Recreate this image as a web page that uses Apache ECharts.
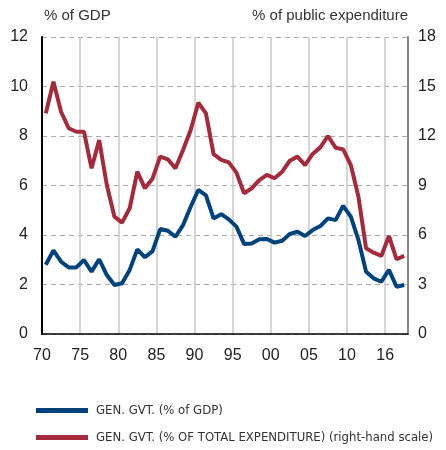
<!DOCTYPE html>
<html lang="en">
<head>
<meta charset="utf-8">
<title>General government</title>
<script src="https://cdn.jsdelivr.net/npm/echarts@6/dist/echarts.min.js"></script>
<style>
  html, body { margin: 0; padding: 0; background: #fff; }
  #chart { width: 446px; height: 450px; }
</style>
</head>
<body>
<div id="chart"></div>
<script>
// data
var years = [1970, 1971, 1972, 1973, 1974, 1975, 1976, 1977, 1978, 1979,
             1980, 1981, 1982, 1983, 1984, 1985, 1986, 1987, 1988, 1989,
             1990, 1991, 1992, 1993, 1994, 1995, 1996, 1997, 1998, 1999,
             2000, 2001, 2002, 2003, 2004, 2005, 2006, 2007, 2008, 2009,
             2010, 2011, 2012, 2013, 2014, 2015, 2016, 2017];

var pctGdp = [2.8, 3.38, 2.92, 2.69, 2.69, 2.99, 2.52, 3.02, 2.38, 1.98,
              2.05, 2.59, 3.42, 3.1, 3.35, 4.24, 4.17, 3.93, 4.4, 5.14,
              5.82, 5.6, 4.67, 4.84, 4.63, 4.34, 3.64, 3.66, 3.83, 3.84,
              3.69, 3.77, 4.04, 4.13, 3.96, 4.2, 4.36, 4.67, 4.6, 5.18,
              4.74, 3.8, 2.52, 2.25, 2.11, 2.59, 1.91, 1.98];

var pctExpenditure = [13.37, 15.29, 13.47, 12.47, 12.26, 12.26, 10.04, 11.76, 9.03, 7.11,
                      6.75, 7.62, 9.84, 8.83, 9.43, 10.75, 10.59, 10.04, 11.15, 12.36,
                      14.02, 13.37, 10.9, 10.55, 10.4, 9.78, 8.53, 8.83, 9.33, 9.64,
                      9.44, 9.84, 10.5, 10.75, 10.24, 10.91, 11.31, 12.0, 11.29, 11.19,
                      10.24, 8.32, 5.19, 4.93, 4.73, 5.94, 4.53, 4.73];

var xTicks = [1970, 1975, 1980, 1985, 1990, 1995, 2000, 2005, 2010, 2015];
var xTickLabels = ['70', '75', '80', '85', '90', '95', '00', '05', '10', '16'];

var nameGdp = 'GEN. GVT. (% of GDP)';
var nameExp = 'GEN. GVT. (% OF TOTAL EXPENDITURE) (right-hand scale)';

var chart = echarts.init(document.getElementById('chart'));

function pairs(vals) {
    // each year sits in the middle of its band
    return years.map(function (y, i) { return [y + 0.5, vals[i]]; });
}

var font = 'Liberation Sans, Arial, sans-serif';

function legendRow(name, top) {
    return {
        left: 36,
        top: top,
        padding: 0,
        itemWidth: 52,
        itemHeight: 5,
        icon: 'rect',
        textStyle: {
            fontFamily: 'Liberation Sans Narrow, DejaVu Sans Condensed, sans-serif',
            fontSize: 13,
            color: '#333',
            padding: [0, 0, 0, 3]
        },
        data: [name]
    };
}

option = {
    animation: false,
    grid: { left: 42, right: 38, top: 37, bottom: 116 },
    legend: [legendRow(nameGdp, 404), legendRow(nameExp, 431)],
    xAxis: {
        type: 'value',
        min: 1970,
        max: 2018,
        interval: 5,
        axisLine: { lineStyle: { color: '#000', width: 1.5 } },
        axisTick: { show: false },
        axisLabel: {
            margin: 14,
            fontFamily: font,
            fontSize: 16,
            color: '#222',
            formatter: function (v) {
                var k = xTicks.indexOf(v);
                return k < 0 ? '' : xTickLabels[k];
            }
        },
        splitLine: { show: true, lineStyle: { color: '#c8c8c8', width: 1.5 } }
    },
    yAxis: [
        {
            type: 'value',
            min: 0,
            max: 12,
            interval: 2,
            name: '% of GDP',
            nameLocation: 'end',
            nameGap: 14,
            nameTextStyle: {
                align: 'left',
                padding: [0, 0, 0, 2],
                fontFamily: font,
                fontSize: 15,
                color: '#333'
            },
            axisLine: { show: true, lineStyle: { color: '#000', width: 2 } },
            axisTick: { show: false },
            axisLabel: { margin: 14, fontFamily: font, fontSize: 16, color: '#222' },
            splitLine: { show: true, lineStyle: { color: '#aaa', type: [5, 4], width: 1 } }
        },
        {
            type: 'value',
            min: 0,
            max: 18,
            interval: 3,
            name: '% of public expenditure',
            nameLocation: 'end',
            nameGap: 14,
            nameTextStyle: {
                align: 'right',
                fontFamily: font,
                fontSize: 15,
                color: '#333'
            },
            axisLine: { show: true, lineStyle: { color: '#888', width: 2 } },
            axisTick: { show: false },
            axisLabel: { margin: 10, fontFamily: font, fontSize: 16, color: '#222' },
            splitLine: { show: false }
        }
    ],
    series: [
        {
            name: nameGdp,
            type: 'line',
            yAxisIndex: 0,
            showSymbol: false,
            data: pairs(pctGdp),
            lineStyle: { width: 4, color: '#00437c' },
            itemStyle: { color: '#00437c' }
        },
        {
            name: nameExp,
            type: 'line',
            yAxisIndex: 1,
            showSymbol: false,
            data: pairs(pctExpenditure),
            lineStyle: { width: 4, color: '#a52a3b' },
            itemStyle: { color: '#a52a3b' }
        }
    ]
};

chart.setOption(option);
</script>
</body>
</html>
